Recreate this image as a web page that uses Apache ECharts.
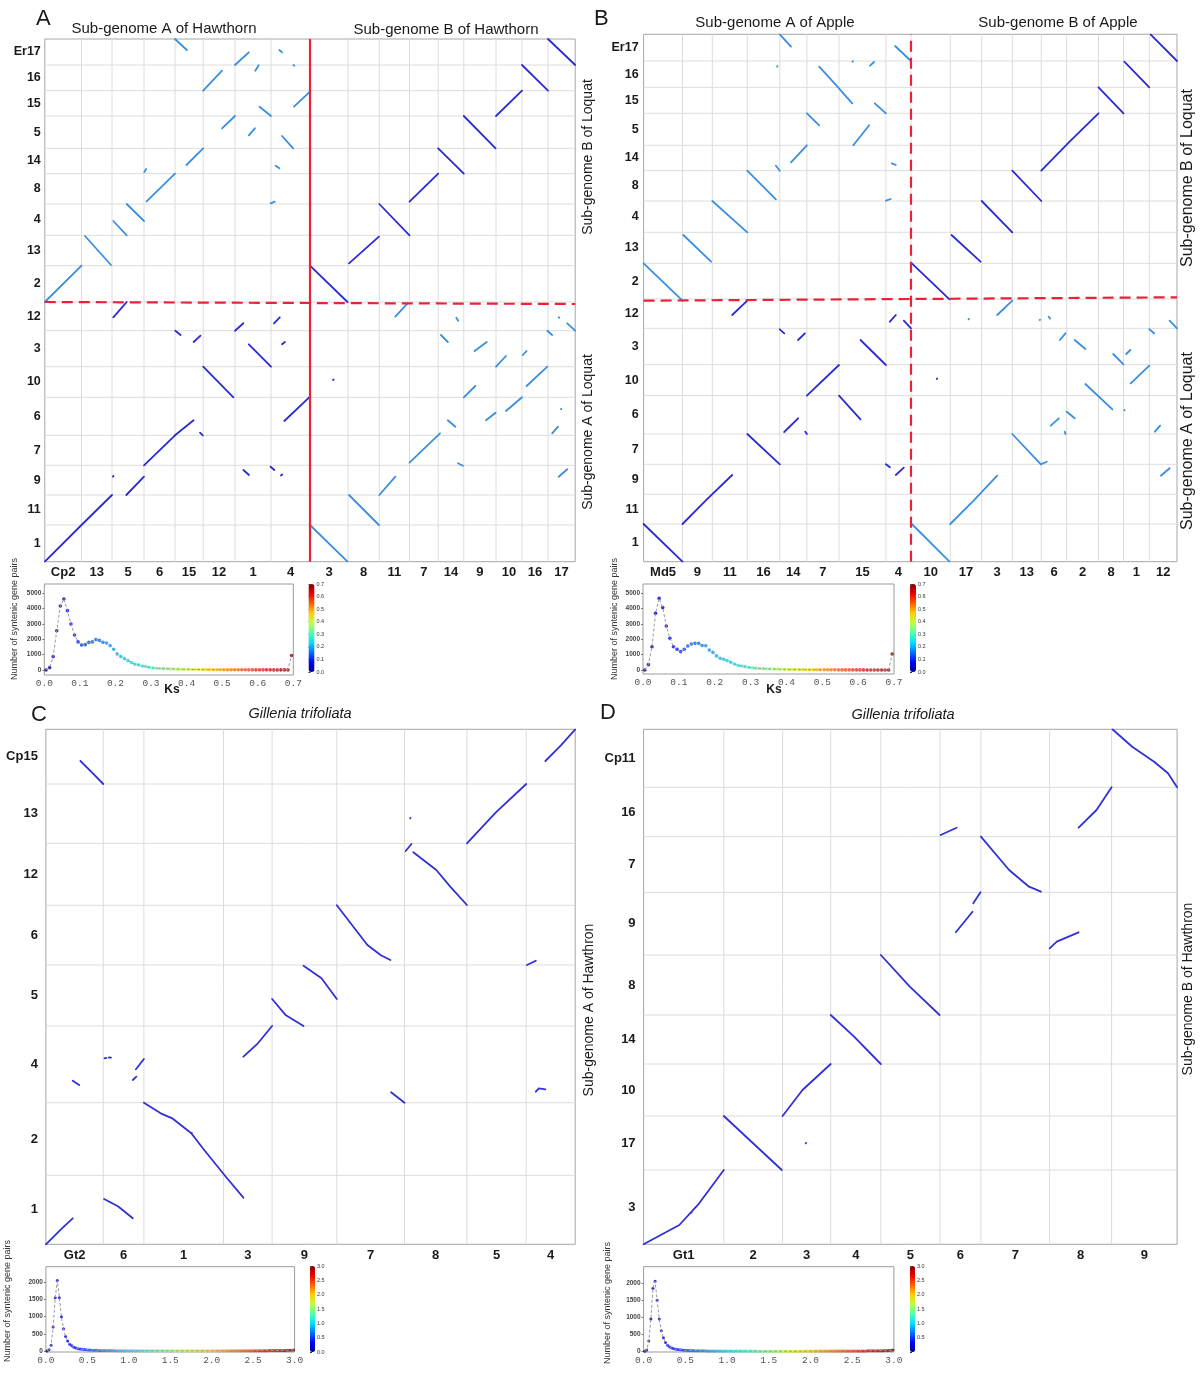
<!DOCTYPE html>
<html>
<head>
<meta charset="utf-8">
<script src="https://cdn.jsdelivr.net/npm/echarts@6/dist/echarts.min.js"></script>
<style>
  html, body { margin: 0; padding: 0; background: #fff; }
  #chart { width: 1203px; height: 1376px; }
</style>
</head>
<body>
<div id="chart"></div>
<script>
// ---- chromosome names and relative lengths ----
// panel A: hawthorn (x) vs loquat (y)
const aXNames = ['Cp2', '13', '5', '6', '15', '12', '1', '4', '3', '8', '11', '7', '14', '9', '10', '16', '17'];
const aXLens = [36.7, 30.5, 32, 31, 28.2, 31.8, 36, 39, 38, 31.3, 30.2, 28.7, 25.6, 32.2, 26, 26, 27.2];
const aYNames = ['1', '11', '9', '7', '6', '10', '3', '12', '2', '13', '4', '8', '14', '5', '15', '16', 'Er17'];
const aYLens = [36.7, 30, 29.7, 30, 38, 30.6, 36, 28.7, 36.3, 30.4, 31.3, 30.3, 25.4, 32.3, 25.3, 25.7, 26];

// panel B: apple (x) vs loquat (y)
const bXNames = ['Md5', '9', '11', '16', '14', '7', '15', '4', '10', '17', '3', '13', '6', '2', '8', '1', '12'];
const bXLens = [38.9, 29.8, 35, 32.5, 27.1, 32.1, 46.9, 25.1, 39.3, 31.4, 30.6, 29, 25.4, 31.8, 25, 25.8, 27.7];
const bYNames = aYNames;
const bYLens = [37.7, 29.7, 30, 30.3, 38.3, 31, 36.4, 29.3, 35.7, 31, 31.3, 30.3, 25.4, 32, 26, 26.3, 26.7];

// panel C: Gillenia (x) vs hawthorn sub-genome A (y)
const cXNames = ['Gt2', '6', '1', '3', '9', '7', '8', '5', '4'];
const cXLens = [57.4, 40.6, 79.6, 48.6, 64.7, 67.7, 62.4, 59.3, 49];
const cYNames = ['1', '2', '4', '5', '6', '12', '13', 'Cp15'];
const cYLens = [69, 72.6, 76.7, 61, 59.7, 62, 59.3, 54.7];

// panel D: Gillenia (x) vs hawthorn sub-genome B (y)
const dXNames = ['Gt1', '2', '3', '4', '5', '6', '7', '8', '9'];
const dXLens = [80.2, 58.8, 48.1, 50.1, 59.1, 41, 68.7, 62, 65.5];
const dYNames = ['3', '17', '10', '14', '8', '9', '7', '16', 'Cp11'];
const dYLens = [74.3, 54, 52, 49, 60, 62.7, 55.6, 49.4, 58];

// ---- syntenic blocks, positions along the concatenated genomes ----
const aLight = [
  [[0, 259.7], [36.7, 296]], [[40.2, 325.7], [66.2, 296.7]], [[68.5, 340.7], [81.9, 326.4]],
  [[81.9, 357.7], [99.2, 340.7]], [[101.8, 360.4], [130.2, 388]], [[99.5, 389.7], [101.4, 392.7]],
  [[141.6, 396.7], [158.4, 413.4]], [[130.2, 522.7], [142, 511.7]], [[158.4, 471], [177.2, 491]],
  [[177.2, 433.4], [190.2, 445.7]], [[190.2, 496.7], [204, 509.4]], [[204, 426.4], [210.1, 433.4]],
  [[210.5, 491], [213.9, 496.4]], [[214.7, 455], [226.2, 445.7]], [[234.6, 511.7], [237.2, 509.4]],
  [[248.7, 496.7], [249.5, 496]], [[249.2, 455], [264.4, 469.4]], [[237.2, 425.7], [248.4, 413.4]],
  [[230.7, 396], [234.6, 393.4]], [[225.8, 358.4], [230, 360]],
  [[265.2, 36.7], [302.7, 0]], [[304.2, 66.7], [334.1, 36.7]], [[334.5, 66.7], [350.5, 85]],
  [[364.7, 99], [395.2, 128.4]], [[403, 141.4], [410.6, 135]], [[413.2, 98.4], [418.2, 96]],
  [[350.5, 245], [362.8, 258.4]], [[396.1, 226.7], [403, 219.7]], [[411.5, 244], [413.4, 241]],
  [[429.8, 210.7], [442, 219.7]], [[419, 164.4], [430.5, 175.7]], [[441.2, 141.4], [450.8, 149]],
  [[451.2, 195], [461.2, 205.7]], [[461.2, 150.7], [477.2, 164.4]], [[478, 206.7], [481.8, 210.7]],
  [[481.8, 175.7], [502.5, 195]], [[502.5, 231], [507.4, 226.7]], [[522.4, 238.4], [530.4, 231]],
  [[513.9, 244.4], [514.6, 244]], [[507.4, 128.4], [513.2, 135]], [[513.9, 85], [522.4, 92.4]],
  [[516.2, 152.4], [516.5, 153]]
];
const aDark = [
  [[265.2, 296], [302.7, 259.7]], [[304.2, 298.4], [334.1, 325]], [[334.5, 357.7], [364.7, 326.4]],
  [[364.7, 360], [393.4, 388]], [[393.4, 413.4], [419, 388]], [[419, 445.7], [450.8, 413.4]],
  [[451.2, 445.7], [477.2, 471]], [[477.2, 496.7], [503.2, 471]], [[503.2, 522.7], [530.4, 496.7]],
  [[0, 0], [36.7, 36.7], [67.2, 66.7]], [[81.5, 66.7], [99.2, 85]], [[99.2, 96.4], [130.2, 126.4]],
  [[130.2, 126.4], [148.8, 141.4]], [[155.2, 129], [158, 126.4]], [[158.4, 195], [188.6, 164.4]],
  [[68.5, 244.4], [81.9, 259.7]], [[130.5, 231], [135.8, 226.7]], [[148.8, 219.7], [155.7, 226]],
  [[190.2, 231], [198.6, 238.4]], [[204, 217.4], [226.2, 195]], [[229.2, 238.4], [235, 244.4]],
  [[237.2, 217.4], [240.2, 219.7]], [[239.5, 140.7], [264.4, 164.4]], [[198.6, 91.7], [204.2, 86.7]],
  [[225.8, 95], [229.6, 91.7]], [[236.2, 86.2], [237.5, 87.2]], [[68.2, 85], [68.6, 85.8]],
  [[288.2, 181.7], [288.8, 182.2]]
];
const aRedSolid = [[[265.2, 0], [265.2, 522.7]]];
const aRedDash = [[[0, 259.7], [530.4, 257.7]]];

const bLight = [
  [[0, 298.4], [38.9, 261]], [[39.7, 326.7], [67.5, 300]], [[68.7, 360.7], [103.7, 329.4]],
  [[103.7, 391], [132.3, 362.4]], [[132.3, 396], [136.2, 391]], [[147.4, 399.4], [163.3, 416.4]],
  [[136.2, 527.4], [147.4, 515]], [[133.5, 495], [133.9, 495.6]], [[163.3, 448.4], [175.6, 436.4]],
  [[175.6, 495], [192, 477], [208.6, 458.4]], [[209.7, 416.4], [225.6, 436.4]], [[208.9, 500], [209.3, 500.6]],
  [[226.4, 496], [230.4, 499.7]], [[231.2, 458.4], [242.3, 448.4]], [[251.5, 515.7], [267.4, 500.7]],
  [[248.3, 398.4], [252.2, 396.7]], [[242.3, 361], [247.1, 362.7]],
  [[268.2, 37.7], [305.9, 0]], [[306.7, 37.7], [330, 61], [353.6, 86]], [[353.6, 246.7], [368.7, 261]],
  [[368.7, 127.7], [397.3, 97.4]], [[397.3, 97.4], [403.2, 100]], [[325, 242.4], [325.4, 242.8]],
  [[396.1, 241.7], [396.5, 242]], [[405.2, 245], [406.4, 243]], [[416.3, 221.7], [421.9, 228.4]],
  [[407.2, 136], [415.2, 143.4]], [[423.1, 150], [431.1, 143.4]], [[421.1, 130], [421.9, 127.7]],
  [[431.1, 221.7], [441.8, 212.7]], [[441.8, 177.7], [468.8, 152.4]], [[469.6, 207.7], [479.9, 197.4]],
  [[482.7, 207.7], [486.7, 211.7]], [[487.1, 178.4], [505.7, 196]], [[505.7, 232.4], [510.5, 228.4]],
  [[526, 241], [533.4, 233.4]], [[511.3, 130], [516.5, 136]], [[517.3, 86], [526, 93.4]],
  [[480.7, 151.7], [481, 151.3]]
];
const bDark = [
  [[268.2, 298.4], [305.9, 262.4]], [[307.9, 326.7], [336.9, 300]], [[338.1, 360.7], [368.7, 329.4]],
  [[368.7, 391], [397.7, 360.7]], [[397.7, 391], [426, 420], [454.9, 448.4]], [[454.9, 474.4], [479.9, 448.4]],
  [[480.7, 500], [505.7, 474.4]], [[506.9, 527.4], [533.4, 500.7]],
  [[0, 37.7], [38.9, 0]], [[38.9, 37.7], [63, 62], [88.6, 86.7]], [[88.6, 246.7], [103.7, 261]],
  [[103.7, 127.7], [136.2, 97.4]], [[140.6, 129.7], [154.5, 143.4]], [[161.7, 130], [163.3, 127.7]],
  [[136.2, 232.4], [140.6, 228.4]], [[154.5, 221.7], [161.3, 228.4]], [[163.3, 166], [195.4, 196.7]],
  [[195.4, 166], [216.9, 142.4]], [[216.9, 221.7], [242.3, 196.7]], [[246.3, 240], [252.2, 246.7]],
  [[260.2, 241], [267.4, 233.4]], [[242.3, 97.4], [246.3, 94.4]], [[252.2, 86.7], [260.2, 94]],
  [[293.2, 182.7], [293.6, 183.2]]
];
const bRedDash = [[[267.4, 0], [267.4, 527.4]], [[0, 261], [533.4, 264.4]]];

const cBlocks = [
  [[34.5, 483.3], [45, 473], [57.4, 460.3]], [[499.5, 483.3], [515, 499], [529.3, 515]],
  [[421, 401], [450, 432], [480.3, 460.3]], [[364.2, 426], [364.6, 426.4]],
  [[359.8, 393.3], [365.5, 400.3]], [[367.4, 392], [390.4, 374.3], [405, 357], [421, 339.3]],
  [[290.9, 339], [321.5, 299.3], [335, 289], [344.5, 284.3]], [[481.1, 279.3], [489.9, 283.6]],
  [[257.6, 278.6], [275.6, 266], [290.9, 245.3]], [[226.2, 245.3], [240, 229], [257.6, 218.3]],
  [[197.5, 187.6], [212, 201], [226.2, 218.3]], [[26.8, 163.6], [33.3, 159.3]],
  [[58.6, 186], [60.5, 186.4]], [[63, 186.8], [65.1, 186.6]], [[90, 175], [98, 185.3]],
  [[86.9, 164.3], [90.5, 167.6]],
  [[98, 141.6], [114.8, 131], [126.3, 126], [145.4, 111], [156.9, 96], [179.9, 67.6], [197.5, 46.6]],
  [[345.2, 152], [358.6, 141.6]], [[489.9, 152.6], [493, 156], [499.5, 155]],
  [[0, 0], [14, 14], [26.8, 26]], [[58.2, 45.3], [72, 38], [86.9, 26]], [[145.5, 111], [145.9, 111.4]]
];

const dBlocks = [
  [[468.8, 515], [488.6, 497.6], [510.5, 482.6], [524.4, 471], [533.5, 457]],
  [[435, 416.6], [452.9, 434.3], [468, 457]], [[297.1, 409.3], [313, 416.6]],
  [[337.3, 407.6], [365.5, 374.3], [385.4, 357.6], [397.3, 352.6]],
  [[312.2, 312], [328.9, 332.6]], [[329.7, 341], [336.9, 352]],
  [[406, 296], [413.2, 302.6], [435, 312]],
  [[237.2, 289.3], [266.2, 257.6], [296, 229.3]],
  [[187.1, 229.3], [210.5, 207.6], [237.2, 180.3]],
  [[139, 128.3], [158.9, 154.3], [187.1, 180.3]],
  [[80.2, 128.3], [138.2, 74.3]],
  [[0, 0], [35.7, 19.3], [55.6, 41], [80.2, 74.3]],
  [[162.1, 101], [162.5, 101.4]], [[47.6, 31.6], [48, 32]]
];

// ---- Ks distributions (number of syntenic gene pairs per bin) ----
const ksStepAB = 0.01;
const ksA = [0, 150, 870, 2560, 4170, 4630, 3870, 3000, 2280, 1830,
  1630, 1650, 1800, 1830, 1980, 1930, 1800, 1760, 1590, 1350,
  1040, 870, 740, 610, 480, 370, 330, 260, 220, 170,
  130, 110, 95, 85, 75, 65, 58, 52, 46, 40,
  35, 31, 28, 25, 22, 20, 18, 16, 15, 14,
  12, 11, 10, 10, 9, 8, 8, 7, 7, 6,
  6, 5, 5, 5, 4, 4, 4, 4, 4, 940];
const ksB = [0, 350, 1520, 3700, 4670, 4070, 2870, 2065, 1520, 1350,
  1200, 1350, 1565, 1700, 1740, 1740, 1600, 1580, 1300, 1150,
  920, 770, 700, 610, 500, 390, 300, 260, 220, 170,
  140, 120, 100, 90, 80, 70, 60, 55, 50, 44,
  38, 34, 30, 27, 24, 21, 19, 17, 15, 14,
  13, 12, 11, 10, 9, 8, 8, 7, 7, 6,
  6, 6, 5, 5, 5, 4, 4, 4, 4, 1040];
const ksStepCD = 0.025;
const ksC = [0, 40, 170, 700, 1550, 2050, 1550, 1000, 650, 420,
  290, 200, 150, 110, 85, 65, 55, 48, 42, 36,
  32, 28, 25, 22, 20, 18, 17, 16, 15, 14,
  13, 12, 12, 11, 11, 10, 10, 9, 9, 9,
  8, 8, 8, 8, 7, 7, 7, 7, 7, 6,
  6, 6, 6, 6, 6, 5, 5, 5, 5, 5,
  5, 5, 5, 5, 5, 5, 5, 5, 5, 5,
  5, 5, 5, 5, 5, 5, 5, 5, 6, 6,
  6, 6, 6, 6, 6, 6, 6, 6, 7, 7,
  7, 7, 7, 7, 8, 8, 8, 8, 8, 9,
  9, 9, 10, 10, 10, 11, 11, 12, 12, 13,
  13, 14, 15, 16, 17, 18, 20, 22, 25, 30];
const ksD = [0, 40, 300, 950, 1850, 2050, 1500, 950, 600, 400,
  260, 180, 130, 95, 75, 60, 50, 44, 38, 33,
  29, 26, 23, 21, 19, 17, 16, 15, 14, 13,
  12, 12, 11, 11, 10, 10, 9, 9, 9, 8,
  8, 8, 8, 7, 7, 7, 7, 7, 6, 6,
  6, 6, 6, 6, 5, 5, 5, 5, 5, 5,
  5, 5, 5, 5, 5, 5, 5, 5, 5, 5,
  5, 5, 5, 5, 5, 5, 5, 6, 6, 6,
  6, 6, 6, 6, 6, 6, 7, 7, 7, 7,
  7, 7, 8, 8, 8, 8, 8, 9, 9, 9,
  10, 10, 10, 11, 11, 12, 12, 13, 13, 14,
  15, 16, 17, 18, 19, 21, 23, 26, 30, 35];
const ksTicksA = [0, 1000, 2000, 3000, 4000, 5000];
const ksTicksC = [0, 500, 1000, 1500, 2000];

// ---- styling ----
const FONT = '"Liberation Sans", Arial, sans-serif';
const MONO = '"Liberation Mono", "Courier New", monospace';
const DARK = '#2b2bd3';
const LIGHT = '#3a8fdf';
const GILL = '#3131d6';
const RED = '#e9213b';
const GRID_LINE = '#dcdcdc';
const JET = ['#00008f', '#0000ff', '#0070ff', '#00dfff', '#50ffaf', '#bfff40', '#ffcf00', '#ff6000', '#ef0000', '#800000'];

function edges(lens) {
  const e = [0];
  lens.forEach((l) => e.push(e[e.length - 1] + l));
  return e;
}

function labelAxis(names, lens) {
  const e = edges(lens);
  const centers = names.map((n, i) => (e[i] + e[i + 1]) / 2);
  const fmt = (v) => {
    let best = 0;
    let dist = Infinity;
    centers.forEach((c, i) => {
      const d = Math.abs(c - v);
      if (d < dist) { dist = d; best = i; }
    });
    return names[best];
  };
  return { edges: e, centers, fmt };
}

const dotPanels = [
  {
    box: { left: 44.8, top: 39, width: 530.4, height: 522.7 },
    xNames: aXNames, xLens: aXLens, yNames: aYNames, yLens: aYLens,
    xMargin: 4, yMargin: 4, xFont: 13, yFont: 12.5,
    groups: [[aLight, LIGHT], [aDark, DARK]],
    red: [[aRedSolid, 'solid'], [aRedDash, [11, 6]]],
  },
  {
    box: { left: 643.6, top: 34.3, width: 533.4, height: 527.4 },
    xNames: bXNames, xLens: bXLens, yNames: bYNames, yLens: bYLens,
    xMargin: 4, yMargin: 5, xFont: 13, yFont: 12.5,
    groups: [[bLight, LIGHT], [bDark, DARK]],
    red: [[bRedDash, [11, 6]]],
  },
  {
    box: { left: 45.9, top: 729.3, width: 529.3, height: 515 },
    xNames: cXNames, xLens: cXLens, yNames: cYNames, yLens: cYLens,
    xMargin: 5, yMargin: 8, xFont: 13, yFont: 13,
    groups: [[cBlocks, GILL]],
    red: [],
  },
  {
    box: { left: 643.6, top: 729.3, width: 533.5, height: 515 },
    xNames: dXNames, xLens: dXLens, yNames: dYNames, yLens: dYLens,
    xMargin: 5, yMargin: 8, xFont: 13, yFont: 13,
    groups: [[dBlocks, GILL]],
    red: [],
  },
];

const ksPanels = [
  { values: ksA, step: ksStepAB, max: 0.7, interval: 0.1, yMin: -330, yMax: 5610, ticks: ksTicksA,
    box: { left: 44.3, top: 584, width: 249, height: 91 }, bar: { left: 308.5, top: 584, w: 6, h: 88 }, size: 3.6, zeroLabel: true },
  { values: ksB, step: ksStepAB, max: 0.7, interval: 0.1, yMin: -260, yMax: 5610, ticks: ksTicksA,
    box: { left: 643, top: 584, width: 251, height: 90 }, bar: { left: 910, top: 584, w: 6, h: 88 }, size: 3.6, zeroLabel: true },
  { values: ksC, step: ksStepCD, max: 3, interval: 0.5, yMin: -29, yMax: 2455, ticks: ksTicksC,
    box: { left: 45.9, top: 1266.7, width: 248.7, height: 85.3 }, bar: { left: 310, top: 1266, w: 5, h: 86 }, size: 3, zeroLabel: true },
  { values: ksD, step: ksStepCD, max: 3, interval: 0.5, yMin: -20, yMax: 2480, ticks: ksTicksC,
    box: { left: 643.6, top: 1266.7, width: 250.3, height: 85.3 }, bar: { left: 910, top: 1266, w: 5, h: 86 }, size: 3, zeroLabel: false },
];

const grid = [];
const xAxis = [];
const yAxis = [];
const series = [];
const visualMap = [];

dotPanels.forEach((p) => {
  const gi = grid.length;
  grid.push(Object.assign({ show: true, borderColor: '#a6a6a6', borderWidth: 1, outerBoundsMode: 'none' }, p.box));
  const xl = labelAxis(p.xNames, p.xLens);
  const yl = labelAxis(p.yNames, p.yLens);
  const xMax = xl.edges[xl.edges.length - 1];
  const yMax = yl.edges[yl.edges.length - 1];
  xAxis.push({
    gridIndex: gi, type: 'value', min: 0, max: xMax,
    axisLine: { show: false }, axisTick: { show: false }, splitLine: { show: false },
    axisLabel: { customValues: xl.centers, formatter: xl.fmt, fontFamily: FONT, fontWeight: 'bold',
      fontSize: p.xFont, color: '#1a1a1a', margin: p.xMargin },
  });
  yAxis.push({
    gridIndex: gi, type: 'value', min: 0, max: yMax,
    axisLine: { show: false }, axisTick: { show: false }, splitLine: { show: false },
    axisLabel: { customValues: yl.centers, formatter: yl.fmt, fontFamily: FONT, fontWeight: 'bold',
      fontSize: p.yFont, color: '#1a1a1a', margin: p.yMargin },
  });
  // chromosome boundaries
  const bounds = [];
  xl.edges.slice(1, -1).forEach((v) => bounds.push({ coords: [[v, 0], [v, yMax]] }));
  yl.edges.slice(1, -1).forEach((v) => bounds.push({ coords: [[0, v], [xMax, v]] }));
  series.push({
    type: 'lines', coordinateSystem: 'cartesian2d', xAxisIndex: gi, yAxisIndex: gi,
    polyline: true, silent: true, data: bounds,
    lineStyle: { color: GRID_LINE, width: 1, opacity: 1 },
  });
  p.groups.forEach(([list, color]) => {
    series.push({
      type: 'lines', coordinateSystem: 'cartesian2d', xAxisIndex: gi, yAxisIndex: gi,
      polyline: true, silent: true,
      data: list.map((pts) => ({ coords: pts })),
      lineStyle: { color, width: 1.8, opacity: 1, cap: 'round', join: 'round' },
    });
  });
  p.red.forEach(([list, type]) => {
    series.push({
      type: 'lines', coordinateSystem: 'cartesian2d', xAxisIndex: gi, yAxisIndex: gi,
      polyline: true, silent: true,
      data: list.map((pts) => ({ coords: pts })),
      lineStyle: { color: RED, width: 2.2, type, opacity: 1 },
    });
  });
});

ksPanels.forEach((p) => {
  const gi = grid.length;
  grid.push(Object.assign({ show: true, borderColor: '#9a9a9a', borderWidth: 1, outerBoundsMode: 'none' }, p.box));
  xAxis.push({
    gridIndex: gi, type: 'value', min: 0, max: p.max, interval: p.interval,
    axisLine: { show: false }, axisTick: { show: false }, splitLine: { show: false },
    axisLabel: { formatter: (v) => v.toFixed(1), fontFamily: MONO, fontSize: 9.5, color: '#555', margin: 3 },
  });
  yAxis.push({
    gridIndex: gi, type: 'value', min: p.yMin, max: p.yMax,
    axisLine: { show: false }, splitLine: { show: false },
    axisTick: { show: true, customValues: p.ticks, length: 2, lineStyle: { color: '#777' } },
    axisLabel: { customValues: p.ticks, formatter: (v) => String(v), fontFamily: FONT, fontWeight: 'bold',
      fontSize: 6.5, color: '#444', margin: 3 },
  });
  const pts = p.values.map((v, i) => [+(p.step * i + p.step / 2).toFixed(4), v]);
  series.push({
    type: 'line', xAxisIndex: gi, yAxisIndex: gi, data: pts, showSymbol: false, silent: true,
    lineStyle: { color: '#9a9a9a', width: 1, type: [3, 2] },
  });
  const si = series.length;
  series.push({
    type: 'scatter', xAxisIndex: gi, yAxisIndex: gi, data: pts, symbol: 'circle',
    symbolSize: p.size, silent: true,
  });
  visualMap.push({
    type: 'continuous', min: 0, max: p.max, dimension: 0, seriesIndex: si,
    inRange: { color: JET }, show: true, calculable: false, hoverLink: false,
    text: null, padding: 0, left: p.bar.left, top: p.bar.top,
    itemWidth: p.bar.w, itemHeight: p.bar.h, orient: 'vertical',
  });
  // colour bar tick labels
  const ci = grid.length;
  grid.push({ left: p.bar.left, top: p.bar.top, width: p.bar.w, height: p.bar.h, outerBoundsMode: 'none' });
  xAxis.push({ gridIndex: ci, type: 'value', min: 0, max: 1, show: false });
  yAxis.push({
    gridIndex: ci, type: 'value', position: 'right', min: 0, max: p.max, interval: p.interval,
    axisLine: { show: false }, splitLine: { show: false },
    axisTick: { show: true, length: 2, lineStyle: { color: '#333' } },
    axisLabel: {
      formatter: (v) => (v === 0 && !p.zeroLabel ? '' : v.toFixed(1)),
      fontFamily: FONT, fontSize: 5.5, color: '#333', margin: 2,
    },
  });
});

function txt(text, x, y, size, opts) {
  const o = opts || {};
  return {
    type: 'text', x, y, rotation: o.rot || 0, silent: true,
    style: {
      text, fill: o.color || '#1a1a1a', align: o.align || 'center', verticalAlign: 'middle',
      font: `${o.style || 'normal'} ${o.weight || 'normal'} ${size}px ${FONT}`,
    },
  };
}
const UP = Math.PI / 2;
const graphics = [
  txt('A', 36, 19, 22, { align: 'left' }),
  txt('B', 594, 19, 22, { align: 'left' }),
  txt('C', 31, 715, 22, { align: 'left' }),
  txt('D', 600, 713, 22, { align: 'left' }),
  txt('Sub-genome A of Hawthorn', 164, 29, 15),
  txt('Sub-genome B of Hawthorn', 446, 30, 15),
  txt('Sub-genome A of Apple', 775, 23, 15),
  txt('Sub-genome B of Apple', 1058, 23, 15),
  txt('Gillenia trifoliata', 300, 714, 14.5, { style: 'italic' }),
  txt('Gillenia trifoliata', 903, 715, 14.5, { style: 'italic' }),
  txt('Sub-genome B of Loquat', 588, 157, 14, { rot: UP }),
  txt('Sub-genome A of Loquat', 588, 432, 14, { rot: UP }),
  txt('Sub-genome B of Loquat', 1188, 178, 16, { rot: UP }),
  txt('Sub-genome A of Loquat', 1188, 441, 16, { rot: UP }),
  txt('Sub-genome A of Hawthron', 589, 1010, 14, { rot: UP }),
  txt('Sub-genome B of Hawthron', 1188, 989, 14, { rot: UP }),
  txt('Number of syntenic gene pairs', 15, 619, 9, { rot: UP, color: '#333' }),
  txt('Number of syntenic gene pairs', 615, 619, 9, { rot: UP, color: '#333' }),
  txt('Number of syntenic gene pairs', 8, 1301, 9, { rot: UP, color: '#333' }),
  txt('Number of syntenic gene pairs', 608, 1303, 9, { rot: UP, color: '#333' }),
  txt('Ks', 172, 690, 12, { weight: 'bold' }),
  txt('Ks', 774, 690, 12, { weight: 'bold' }),
];

const chart = echarts.init(document.getElementById('chart'));
chart.setOption({
  animation: false,
  backgroundColor: '#fff',
  grid, xAxis, yAxis, series, visualMap,
  graphic: graphics,
});
</script>
</body>
</html>
